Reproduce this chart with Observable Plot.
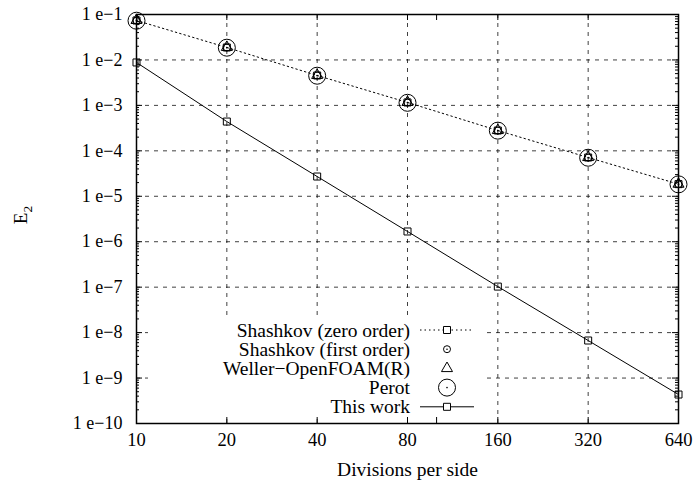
<!DOCTYPE html>
<html><head><meta charset="utf-8">
<script src="https://cdn.jsdelivr.net/npm/d3@7"></script>
<script src="https://cdn.jsdelivr.net/npm/@observablehq/plot@0.6"></script>
<style>body{margin:0;background:#fff} #chart{position:relative;width:694px;height:486px}</style>
</head><body><div id="chart"></div>
<script>
// ---- data ----
const divisions = [10, 20, 40, 80, 160, 320, 640];
const shashkovZero  = [0.0738, 0.0188, 0.00455, 0.00116, 2.80e-4, 7.13e-5, 1.85e-5];
const shashkovFirst = [0.0735, 0.0187, 0.00453, 0.00115, 2.79e-4, 7.10e-5, 1.84e-5];
const weller        = [0.0745, 0.0190, 0.00460, 0.00117, 2.82e-4, 7.18e-5, 1.86e-5];
const perot         = [0.0730, 0.0186, 0.00450, 0.00114, 2.78e-4, 7.05e-5, 1.83e-5];
const thisWork      = [0.00880, 4.41e-4, 2.72e-5, 1.68e-6, 1.03e-7, 6.70e-9, 4.34e-10];
const xTicks = [10, 20, 40, 80, 160, 320, 640];
const xExtraTicks = [100];
const yTicks = [1e-1, 1e-2, 1e-3, 1e-4, 1e-5, 1e-6, 1e-7, 1e-8, 1e-9, 1e-10];
const seriesNames = ["Shashkov (zero order)", "Shashkov (first order)", "Weller\u2212OpenFOAM(R)", "Perot", "This work"];

// ---- layout ----
const W = 694, H = 486, mL = 136, mR = 16, mT = 14, mB = 63;
const pw = W - mL - mR, ph = H - mT - mB;
const FONT = "Liberation Serif, Times New Roman, serif";

const rows = vals => divisions.map((x, i) => ({x, y: vals[i]}));
const yMinor = [];
for (let e = -10; e < -1; e++) for (let m = 2; m <= 9; m++) yMinor.push(m * Math.pow(10, e));

const gridStyle = {stroke: "#000", strokeOpacity: 0.75, strokeWidth: 1, strokeDasharray: "4,5"};

const chart = Plot.plot({
  width: W, height: H,
  marginLeft: mL, marginRight: mR, marginTop: mT, marginBottom: mB,
  style: {fontFamily: FONT, fontSize: "18px", color: "#000", background: "#fff"},
  x: {type: "log", domain: [10, 640]},
  y: {type: "log", domain: [1e-10, 1e-1]},
  marks: [
    Plot.gridX(xTicks.slice(1, -1), gridStyle),
    Plot.gridY(yTicks.slice(1, -1), gridStyle),
    // ticks (inward, mirrored)
    Plot.tickY(yTicks, {y: d => d, insetRight: pw - 6, stroke: "#000"}),
    Plot.tickY(yTicks, {y: d => d, insetLeft: pw - 6, stroke: "#000"}),
    Plot.tickY(yMinor, {y: d => d, insetRight: pw - 3, stroke: "#000"}),
    Plot.tickY(yMinor, {y: d => d, insetLeft: pw - 3, stroke: "#000"}),
    Plot.tickX(xTicks.concat(xExtraTicks), {x: d => d, insetTop: ph - 6, stroke: "#000"}),
    Plot.tickX(xTicks.concat(xExtraTicks), {x: d => d, insetBottom: ph - 6, stroke: "#000"}),
    // x tick labels
    Plot.text(xTicks, {x: d => d, frameAnchor: "bottom", dy: 22, text: d => String(d),
      fontSize: 18.5, fill: "#000"}),
    Plot.axisX({ticks: [], tickSize: 0, label: "Divisions per side", labelAnchor: "center",
      labelArrow: "none", labelOffset: 52, fontSize: 19.5}),
    Plot.axisY(yTicks, {tickSize: 0, tickPadding: 14, fontSize: 18, label: null,
      tickFormat: d => "1 e\u2212" + Math.round(-Math.log10(d))}),
    // series
    Plot.line(rows(shashkovZero), {x: "x", y: "y", stroke: "#000", strokeWidth: 1, strokeDasharray: "1.5,3"}),
    Plot.dot(rows(shashkovZero), {x: "x", y: "y", symbol: "square", r: 3.95, stroke: "#000", strokeWidth: 1}),
    Plot.dot(rows(shashkovFirst), {x: "x", y: "y", symbol: "circle", r: 3.5, stroke: "#000", strokeWidth: 1}),
    Plot.dot(rows(shashkovFirst), {x: "x", y: "y", r: 0.8, fill: "#000"}),
    Plot.dot(rows(weller), {x: "x", y: "y", symbol: "triangle", r: 4.1, stroke: "#000", strokeWidth: 1}),
    Plot.dot(rows(perot), {x: "x", y: "y", symbol: "circle", r: 8.5, stroke: "#000", strokeWidth: 1}),
    Plot.dot(rows(perot), {x: "x", y: "y", r: 0.8, fill: "#000"}),
    Plot.line(rows(thisWork), {x: "x", y: "y", stroke: "#000", strokeWidth: 1}),
    Plot.dot(rows(thisWork), {x: "x", y: "y", symbol: "square", r: 3.95, stroke: "#000", strokeWidth: 1}),
    Plot.frame({stroke: "#000", strokeWidth: 1.5})
  ]
});

const svg = d3.select(chart);
// y axis label with subscript
const yl = svg.append("text")
  .attr("transform", "translate(27,215) rotate(-90)")
  .attr("text-anchor", "middle")
  .attr("font-family", FONT).attr("font-size", 19).attr("fill", "#000");
yl.append("tspan").text("E");
yl.append("tspan").attr("font-size", 13.5).attr("dy", 5).text("2");

// legend (opaque key box, gnuplot style)
const lg = svg.append("g").attr("font-family", FONT).attr("font-size", 19.5);
lg.append("rect").attr("x", 148).attr("y", 318).attr("width", 337).attr("height", 98).attr("fill", "#fff");
const sym = (type, r) => d3.symbol(type, r * r * Math.PI)();
seriesNames.forEach((name, i) => {
  const cy = 330 + i * 19.2;
  lg.append("text").attr("x", 410).attr("y", cy).attr("dy", "0.34em").attr("text-anchor", "end").attr("fill", "#000").text(name);
  const g = lg.append("g").attr("transform", `translate(447,${cy})`).attr("fill", "none").attr("stroke", "#000");
  if (i === 0) {
    g.append("line").attr("x1", -27).attr("x2", 27).attr("stroke-dasharray", "1.5,3");
    g.append("path").attr("d", sym(d3.symbolSquare, 3.95)).attr("fill", "#fff");
  } else if (i === 1) {
    g.append("circle").attr("r", 3.5);
    g.append("circle").attr("r", 0.8).attr("fill", "#000").attr("stroke", "none");
  } else if (i === 2) {
    g.append("path").attr("d", sym(d3.symbolTriangle, 4.1));
  } else if (i === 3) {
    g.append("circle").attr("r", 8.5);
    g.append("circle").attr("r", 0.8).attr("fill", "#000").attr("stroke", "none");
  } else {
    g.append("line").attr("x1", -27).attr("x2", 27);
    g.append("path").attr("d", sym(d3.symbolSquare, 3.95)).attr("fill", "#fff");
  }
});

document.getElementById("chart").appendChild(chart);
</script>
</body></html>
